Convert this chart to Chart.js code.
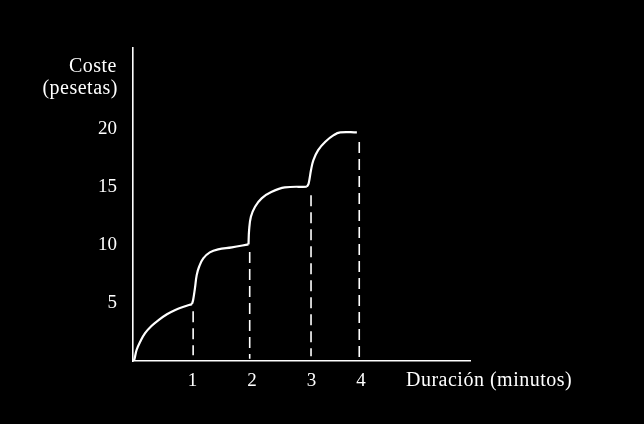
<!DOCTYPE html>
<html>
<head>
<meta charset="utf-8">
<script src="https://cdn.jsdelivr.net/npm/chart.js@4.4.1/dist/chart.umd.min.js"></script>
<style>
html,body{margin:0;padding:0;background:#000;}
#wrap{width:644px;height:424px;position:relative;}
</style>
</head>
<body>
<div id="wrap"><canvas id="c" width="644" height="424"></canvas></div>
<script>
// Tick positions and labels as drawn in the picture
const xTickPos = [1, 2, 3, 3.83];
const xTickLabels = ['1', '2', '3', '4'];
const yTickVals = [5, 10, 15, 20];
const yTitleLines = ['Coste', '(pesetas)'];
const xTitle = 'Duración (minutos)';

// Cost curve, one array per minute (x = minutes, y = pesetas)
const seg1X = [0.0, 0.02, 0.06, 0.12, 0.20, 0.31, 0.43, 0.57, 0.71, 0.85, 0.99];
const seg1Y = [0.0, 0.09, 0.95, 1.66, 2.39, 3.02, 3.53, 4.03, 4.40, 4.68, 4.91];
const seg2X = [0.99, 1.01, 1.04, 1.07, 1.11, 1.18, 1.29, 1.43, 1.66, 1.94];
const seg2Y = [4.91, 5.26, 6.27, 7.41, 8.13, 8.85, 9.37, 9.63, 9.80, 10.06];
const seg3X = [1.94, 1.95, 1.98, 2.05, 2.16, 2.33, 2.55, 2.92];
const seg3Y = [10.06, 11.29, 12.44, 13.30, 14.03, 14.59, 14.97, 15.03];
const seg4X = [2.92, 2.95, 2.99, 3.03, 3.11, 3.23, 3.37, 3.48, 3.76];
const seg4Y = [15.03, 15.32, 16.47, 17.33, 18.19, 18.91, 19.48, 19.72, 19.72];

// Dashed drop lines: x position, top value, bottom value
const dropX = [1.01, 1.96, 2.99, 3.80];
const dropTop = [4.3, 9.4, 14.3, 18.9];
const dropBottom = [0.5, 0.2, 0.4, 0.25];

const toPts = (xs, ys) => xs.map((x, i) => ({x: x, y: ys[i]}));

const curveStyle = {
  borderColor: '#fff', borderWidth: 2.2, pointRadius: 0, showLine: true,
  fill: false, tension: 0.4
};
const datasets = [
  Object.assign({data: toPts(seg1X, seg1Y)}, curveStyle),
  Object.assign({data: toPts(seg2X, seg2Y)}, curveStyle),
  Object.assign({data: toPts(seg3X, seg3Y)}, curveStyle),
  Object.assign({data: toPts(seg4X, seg4Y)}, curveStyle)
];
dropX.forEach((x, i) => {
  datasets.push({
    data: [{x: x, y: dropTop[i]}, {x: x, y: dropBottom[i]}],
    borderColor: '#fff', borderWidth: 1.6, borderDash: [11, 6],
    pointRadius: 0, showLine: true, fill: false, tension: 0
  });
});

const FONT = '"Liberation Serif", "Times New Roman", serif';

const textPlugin = {
  id: 'texts',
  beforeDraw(chart) {
    const ctx = chart.ctx;
    ctx.save();
    ctx.fillStyle = '#000';
    ctx.fillRect(0, 0, chart.width, chart.height);
    ctx.restore();
  },
  afterDraw(chart) {
    const ctx = chart.ctx;
    const area = chart.chartArea;
    ctx.save();
    ctx.fillStyle = '#fff';
    ctx.font = '20px ' + FONT;
    try { ctx.letterSpacing = '0.5px'; } catch (e) {}
    ctx.textBaseline = 'middle';
    ctx.textAlign = 'right';
    ctx.fillText(yTitleLines[0], area.left - 16, 67);
    ctx.fillText(yTitleLines[1], area.left - 15, 89);
    ctx.textAlign = 'left';
    ctx.fillText(xTitle, 406, 381);
    ctx.restore();
  }
};

new Chart(document.getElementById('c'), {
  type: 'scatter',
  data: {datasets: datasets},
  plugins: [textPlugin],
  options: {
    responsive: false,
    animation: false,
    layout: {padding: {left: 0, right: 174, top: 48, bottom: 0}},
    plugins: {legend: {display: false}, tooltip: {enabled: false}},
    scales: {
      x: {
        type: 'linear', min: 0, max: 5.66,
        grid: {display: false, drawTicks: false},
        border: {display: true, color: '#fff', width: 1.6},
        afterBuildTicks: (s) => { s.ticks = xTickPos.map(v => ({value: v})); },
        afterFit: (s) => { s.height = 63; },
        ticks: {
          color: '#fff', padding: 9, maxRotation: 0, autoSkip: false,
          font: {family: FONT, size: 19},
          callback: (v, i) => xTickLabels[i]
        }
      },
      y: {
        type: 'linear', min: 0, max: 27,
        grid: {display: false, drawTicks: false},
        border: {display: true, color: '#fff', width: 1.6},
        afterBuildTicks: (s) => { s.ticks = yTickVals.map(v => ({value: v})); },
        afterFit: (s) => { s.width = 133; },
        ticks: {
          color: '#fff', padding: 16,
          font: {family: FONT, size: 19},
          callback: (v) => String(v)
        }
      }
    }
  }
});
</script>
</body>
</html>
